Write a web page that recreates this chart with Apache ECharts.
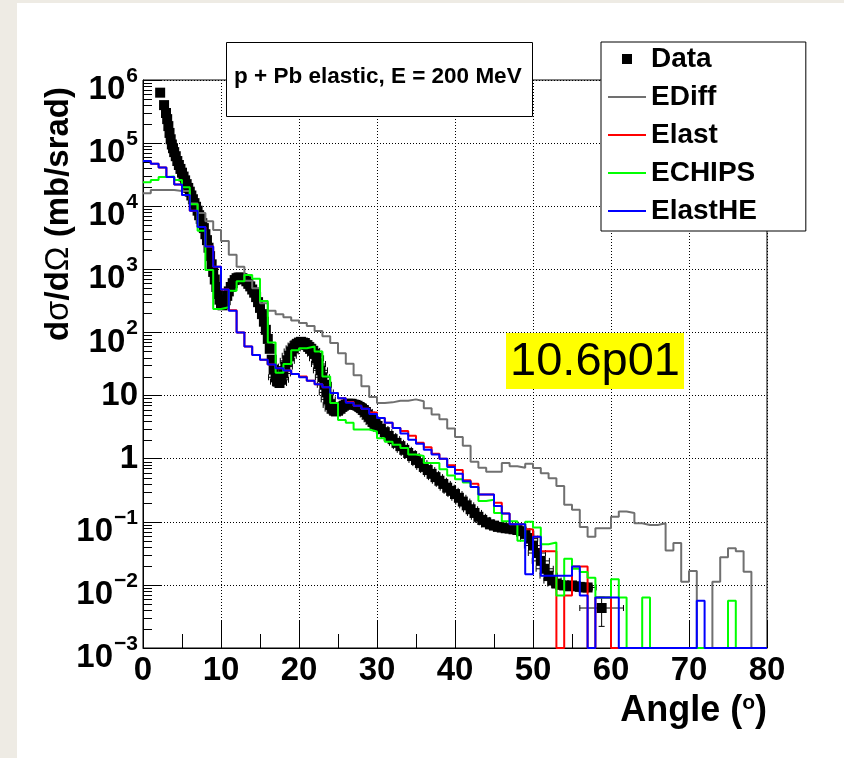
<!DOCTYPE html>
<html><head><meta charset="utf-8">
<script src="https://cdn.jsdelivr.net/npm/echarts@6/dist/echarts.min.js"></script>
<style>html,body{margin:0;padding:0;background:#fff}#c{width:844px;height:758px}</style>
</head><body><div id="c"></div>
<script>
// ---------------- data ----------------
const binLow = [0,1,2,3,4,5,6,7,8,9,10,11,12,13,14,15,16,17,18,19,20,21,22,23,24,25,26,27,28,29,30,31,32,33,34,35,36,37,38,39,40,41,42,43,44,45,46,47,48,49,50,51,52,53,54,55,56,57,58,59,60,61,62,63,64,65,66,67,68,69,70,71,72,73,74,75,76,77,78,79];
const binWidth = 1;

const histEDiff = [
1.6e4,1.8e4,1.8e4,1.8e4,1.75e4,1.75e4,1.1e4,7.8e3,5.8e3,4.2e3,
2.8e3,1.7e3,1.1e3,660,500,290,220,195,174,155,
141,126,105,87,68,47,32,21,14,9.5,
7.6,7.8,8.3,8.3,8.7,8.1,6.3,5.0,4.2,3.0,
2.2,1.6,0.89,0.72,0.62,0.62,0.85,0.76,0.72,0.83,
0.71,0.59,0.49,0.37,0.186,0.155,0.083,0.058,0.079,0.079,
0.12,0.145,0.138,0.095,0.089,0.089,0.095,0.035,0.046,0.0112,
0.0166,0,0,0.0112,0.0275,0.038,0.034,0.0162,0,0];

const histElast = [
5.2e4,4.7e4,4.1e4,2.9e4,2.2e4,1.5e4,8.5e3,4.7e3,2.3e3,1.1e3,
480,225,100,60,44,37,31,27,25,22,
20,17.2,15.1,13.5,11,9.1,7.9,6.9,6.2,5.4,
4.4,3.7,3.06,2.75,2.3,1.78,1.51,1.2,1.0,0.79,
0.66,0.457,0.40,0.27,0.27,0.2,0.135,0.091,0.091,0.076,
0.058,0.034,0.034,0,0.0068,0.0195,0.0195,0,0.0063,0.0063,
0,0,0,0,0,0,0,0,0,0,
0,0,0,0,0,0,0,0,0,0];

const histECHIPS = [
2.4e4,2.6e4,2.9e4,2.95e4,2.6e4,2.0e4,1.07e4,4.1e3,980,235,
250,457,646,813,708,316,69,22.9,31.6,52,
56,60,50,20,7.6,4.1,3.7,2.9,2.9,2.7,
2.1,1.86,1.66,1.48,1.16,1.1,0.85,0.85,0.68,0.54,
0.47,0.42,0.355,0.214,0.224,0.138,0.102,0.102,0.05,0.1,
0.081,0.044,0.047,0.0068,0.026,0.018,0.016,0.013,0.0063,0.0063,
0.0123,0.0063,0,0,0.0063,0,0,0,0,0,
0,0,0,0,0,0.0056,0,0,0,0];

const histElastHE = [
5.2e4,4.7e4,4.1e4,2.9e4,2.2e4,1.5e4,8.5e3,4.7e3,2.3e3,1.1e3,
480,220,100,60,44,37,31,27,25,22,
19.5,17.2,15.1,13.5,11,9.1,7.7,6.9,6.2,5.1,
4.4,3.7,3.06,2.5,2.0,1.72,1.39,1.16,1.0,0.74,
0.575,0.437,0.355,0.27,0.27,0.178,0.135,0.091,0.091,0.0148,
0.058,0.0139,0.0139,0.0139,0.0139,0.0195,0.0068,0,0.0063,0.0063,
0.0063,0,0,0,0,0,0,0,0,0,
0,0.0056,0,0,0,0,0,0,0,0];

const dataAngle = [
2.2,2.7,2.95,3.1,3.25,3.4,3.55,3.7,3.85,
4.0,4.2,4.4,4.6,4.8,5.0,5.2,5.4,5.6,5.8,6.0,6.2,6.4,6.6,6.8,7.0,7.2,7.4,7.6,7.8,8.0,8.2,8.4,8.6,8.8,9.0,9.2,9.4,9.6,9.8,10.0,
10.2,10.4,10.6,10.8,11.0,
11.25,11.5,11.75,12.0,12.25,12.5,12.75,13.0,13.25,13.5,13.75,14.0,14.25,14.5,14.75,15.0,15.25,15.5,15.75,16.0,16.25,16.5,16.75,
17.0,17.25,17.5,17.75,18.0,18.25,18.5,18.75,19.0,19.25,19.5,19.75,20.0,20.25,20.5,20.75,21.0,21.25,21.5,21.75,22.0,22.25,22.5,22.75,
23.0,23.25,23.5,23.75,24.0,24.25,24.5,24.75,25.0,25.25,25.5,25.75,26.0,26.25,26.5,26.75,27.0,27.25,27.5,27.75,28.0,28.25,28.5,28.75,
29.0,29.25,29.5,29.75,30.0,
30.5,31.0,31.5,32.0,32.5,33.0,33.5,34.0,34.5,35.0,35.5,36.0,36.5,37.0,37.5,38.0,38.5,39.0,39.5,40.0,40.5,41.0,41.5,42.0,42.5,43.0,43.5,44.0,
44.5,45.0,45.5,46.0,46.5,47.0,47.5,48.0,48.5,49.0,49.5,50.0,50.5,51.0,51.5,52.0,52.5,53.0,53.5,54.0,54.5,55.0,55.5,56.0,56.5,57.0,
58.8];

const dataValue = [
6.3e5,4.0e5,3.0e5,2.4e5,1.86e5,1.45e5,1.15e5,9.5e4,8.3e4,
7.2e4,6.2e4,5.2e4,4.5e4,3.9e4,3.4e4,2.95e4,2.57e4,2.24e4,1.95e4,1.7e4,1.48e4,1.29e4,1.12e4,9.8e3,8.5e3,7.2e3,6.3e3,5.4e3,4.5e3,3.6e3,2.9e3,2.2e3,1.62e3,1.2e3,910,690,525,407,331,288,
269,282,324,380,447,
525,603,676,724,741,741,724,692,646,589,537,479,427,363,302,245,195,148,110,79,55,37,25.7,
19.5,16.6,15.8,17.8,22.4,28.8,35.5,42.7,50,56,62,66,69,71,69,68,63,59,55,51,46,39,31.6,25.1,
19.5,14.8,11.2,8.7,7.1,6.2,5.75,5.6,5.75,6.2,6.6,6.9,7.2,7.4,7.4,7.4,7.2,7.1,6.9,6.6,6.3,5.9,5.5,5.0,
4.6,4.2,3.8,3.55,3.3,
2.95,2.63,2.29,2.04,1.78,1.58,1.38,1.23,1.10,0.955,0.85,0.74,0.66,0.575,0.51,0.447,0.398,0.347,0.309,0.275,0.24,0.209,0.182,0.158,0.138,0.12,0.107,0.098,
0.091,0.087,0.083,0.081,0.079,0.078,0.076,0.074,0.071,0.065,0.054,0.042,0.032,0.024,0.018,0.014,0.0117,0.0105,0.0100,0.0098,0.0095,0.0098,0.0095,0.0093,0.0091,0.0091,
0.0043];

const dataXErr = [
0,0,0,0,0,0,0,0,0,
0,0,0,0,0,0,0,0,0,0,0,0,0,0,0,0,0,0,0,0,0,0,0,0,0,0,0,0,0,0,0,
0,0,0,0,0,
0,0,0,0,0,0,0,0,0,0,0,0,0,0,0,0,0,0,0,0,0,0,0,
0.9,0.9,0.9,0.9,0.9,0.9,0.9,0.9,0.9,0.9,0.9,0.9,0.9,0.9,0.9,0.9,0.9,0.9,0.9,0.9,0.9,0.9,0.9,0.9,
0.9,0.9,0.9,0.9,0.9,0.9,0.9,0.9,0.9,0.9,0.9,0.9,0.9,0.9,0.9,0.9,0.9,0.9,0.9,0.9,0.9,0.9,0.9,0.9,
0.9,0.9,0.9,0.9,0.9,
0.9,0.9,0.9,0.9,0.9,0.9,0.9,0.9,0.9,0.9,0.9,0.9,0.9,0.9,0.9,0.9,0.9,0.9,0.9,0.9,0.9,0.9,0.9,0.9,0.9,0.9,0.9,0.9,
1.1,1.1,1.1,1.1,1.1,1.1,1.1,1.1,1.1,1.1,1.1,1.1,1.1,1.1,1.1,1.1,1.1,1.1,1.1,1.1,1.1,1.1,1.1,1.1,1.1,1.1,
2.8];

const dataYErr = [
0,0,0,0,0,0,0,0,0,
0,0,0,0,0,0,0,0,0,0,0,0,0,0,0,0,0,0,0,0,0,0,0,0,0,0,0,0,0,0,0,
0,0,0,0,0,
0,0,0,0,0,0,0,0,0,0,0,0,0,0,0,0,0,0,0,0,0,0,0,
0,0,0,0,0,0,0,0,0,0,0,0,0,0,0,0,0,0,0,0,0,0,0,0,
0,0,0,0,0,0,0,0,0,0,0,0,0,0,0,0,0,0,0,0,0,0,0,0,
0,0,0,0,0,
0,0,0,0,0,0,0,0,0,0,0,0,0,0,0,0,0,0,0,0,0,0,0,0,0,0,0,0,
0,0,0,0,0,0,0,0,0,0,0,0,0,0,0,0,0,0,0,0,0,0,0,0,0,0,
0.0021];

const yTickExponents = [-3,-2,-1,0,1,2,3,4,5,6];
const xTicks = [0,10,20,30,40,50,60,70,80];

// ---------------- chart ----------------
const F = 'Liberation Sans, Arial, Helvetica, sans-serif';
const Y_MIN = 1e-3, Y_MAX = 1e6;
const X_MIN = xTicks[0], X_MAX = xTicks[xTicks.length - 1];

function histData(v) {
  const d = binLow.map((x, i) => [x, v[i] > 0 ? v[i] : Y_MIN]);
  const last = v[v.length - 1];
  d.push([binLow[binLow.length - 1] + binWidth, last > 0 ? last : Y_MIN]);
  return d;
}
function histSeries(name, v, color) {
  return {
    name, type: 'line', step: 'end', data: histData(v), color,
    showSymbol: false, symbol: 'none', itemStyle: {color},
    lineStyle: {color, width: 2}, silent: true, animation: false
  };
}
// log-axis minor tick positions (2..9 in each decade)
const minorTicks = [];
for (let e = yTickExponents[0]; e < yTickExponents[yTickExponents.length - 1]; e++) {
  for (let m = 2; m <= 9; m++) minorTicks.push([0, m * Math.pow(10, e)]);
}

const lineIcon = 'path://M0,0h0.01v0.01h-0.01zM0,5h38v2h-38zM37.99,11.99h0.01v0.01h-0.01z';
const squareIcon = 'path://M0,0h0.01v0.01h-0.01zM14,1h10v10h-10zM37.99,11.99h0.01v0.01h-0.01z';

const chart = echarts.init(document.getElementById('c'), null, {renderer: 'canvas'});
chart.setOption({
  animation: false,
  backgroundColor: '#ffffff',
  title: {
    text: 'p + Pb elastic, E = 200 MeV',
    left: 226, top: 42,
    padding: [22, 11, 27, 8],
    borderColor: '#000', borderWidth: 1, backgroundColor: '#fff',
    textStyle: {fontFamily: F, fontSize: 22.5, fontWeight: 'bold', color: '#000', lineHeight: 26}
  },
  legend: {
    orient: 'vertical', left: 601, top: 42,
    padding: [2, 49, 5, 7],
    itemWidth: 38, itemHeight: 12, itemGap: 8, itemTextGap: 7,
    backgroundColor: '#fff', borderColor: '#000', borderWidth: 1,
    selectedMode: false,
    itemStyle: {borderWidth: 0, opacity: 1},
    textStyle: {fontFamily: F, fontSize: 28, fontWeight: 'bold', color: '#000', lineHeight: 30},
    data: [
      {name: 'Data', icon: squareIcon},
      {name: 'EDiff', icon: lineIcon},
      {name: 'Elast', icon: lineIcon},
      {name: 'ECHIPS', icon: lineIcon},
      {name: 'ElastHE', icon: lineIcon}
    ]
  },
  grid: {left: 143, right: 77, top: 80, bottom: 110, show: true, borderColor: '#000', borderWidth: 1,
         backgroundColor: 'transparent', containLabel: false, outerBoundsMode: 'none'},
  xAxis: {
    type: 'value', min: X_MIN, max: X_MAX, interval: 10,
    axisLine: {show: true, lineStyle: {color: '#000', width: 1}},
    axisTick: {show: true, inside: true, length: 28, lineStyle: {color: '#000', width: 1}},
    minorTick: {show: true, splitNumber: 2, length: 14, lineStyle: {color: '#000', width: 1}},
    splitLine: {show: true, lineStyle: {color: '#000', width: 1, type: [1, 2]}},
    axisLabel: {show: true, margin: 6, fontFamily: F, fontSize: 33, fontWeight: 'bold', color: '#000'}
  },
  yAxis: {
    type: 'log', logBase: 10, min: Y_MIN, max: Y_MAX, splitNumber: 9,
    axisLine: {show: true, lineStyle: {color: '#000', width: 1}},
    axisTick: {show: true, inside: true, length: 18, lineStyle: {color: '#000', width: 1}},
    splitLine: {show: true, lineStyle: {color: '#000', width: 1, type: [1, 2]}},
    axisLabel: {
      show: true, margin: 5, color: '#000',
      formatter: function (v) {
        const e = Math.round(Math.log10(v));
        if (e === 0) return '{p|1}';
        if (e === 1) return '{p|10}';
        return '{b|10}{s|' + (e < 0 ? '\u2212' + (-e) : e) + '}';
      },
      rich: {
        p: {fontFamily: F, fontSize: 33, fontWeight: 'bold', color: '#000', lineHeight: 33},
        b: {fontFamily: F, fontSize: 33, fontWeight: 'bold', color: '#000', lineHeight: 33, padding: [20, 0, 0, 0]},
        s: {fontFamily: F, fontSize: 21, fontWeight: 'bold', color: '#000', lineHeight: 21, padding: [12, 0, 20, 1]}
      }
    }
  },
  graphic: {elements: [
    {type: 'rect', z: -10, shape: {x: 0, y: 0, width: 17, height: 758}, style: {fill: '#eeebe4'}},
    {type: 'rect', z: -10, shape: {x: 0, y: 0, width: 844, height: 3}, style: {fill: '#eeebe4'}},
    {type: 'text', x: 59, y: 87, rotation: Math.PI / 2, z: 20,
     style: {text: '{b|d}{g|\u03c3}{b|/d}{g|\u03a9}{b| (mb/srad)}', textAlign: 'right', textVerticalAlign: 'middle',
       rich: {
         b: {fontFamily: F, fontSize: 33, fontWeight: 'bold', fill: '#000', lineHeight: 33},
         g: {fontFamily: F, fontSize: 33, fontWeight: 'normal', fill: '#000', lineHeight: 33}
       }}},
    {type: 'text', x: 767, y: 711, z: 20,
     style: {text: '{a|Angle (}{s|o}{a|)}', textAlign: 'right', textVerticalAlign: 'middle',
       rich: {
         a: {fontFamily: F, fontSize: 36, fontWeight: 'bold', fill: '#000', lineHeight: 36},
         s: {fontFamily: F, fontSize: 21, fontWeight: 'bold', fill: '#000', lineHeight: 21, verticalAlign: 'top'}
       }}},
    {type: 'rect', z: 50, shape: {x: 506, y: 333, width: 178, height: 56}, style: {fill: '#ffff00'}},
    {type: 'text', x: 595, y: 362, z: 51,
     style: {text: '10.6p01', fontFamily: F, fontSize: 47, fontWeight: 'normal', fill: '#000',
             textAlign: 'center', textVerticalAlign: 'middle'}}
  ]},
  series: [
    {
      name: 'Data', type: 'scatter', symbol: 'rect', symbolSize: 10,
      itemStyle: {color: '#000', opacity: 1}, color: '#000', silent: true, z: 2,
      data: dataAngle.map((a, i) => [a, dataValue[i]])
    },
    {
      type: 'custom', silent: true, z: 2, clip: true,
      encode: {x: 0, y: 1},
      data: dataAngle.map((a, i) => [a, dataValue[i], dataXErr[i], dataYErr[i]]),
      renderItem: function (params, api) {
        const x = api.value(0), y = api.value(1), xe = api.value(2), ye = api.value(3);
        const ch = [];
        const st = {stroke: '#000', lineWidth: 1};
        const cap = 3;
        if (xe > 0) {
          const a = api.coord([x - xe, y]), b = api.coord([x + xe, y]);
          ch.push({type: 'line', shape: {x1: a[0], y1: a[1], x2: b[0], y2: b[1]}, style: st});
          ch.push({type: 'line', shape: {x1: a[0], y1: a[1] - cap, x2: a[0], y2: a[1] + cap}, style: st});
          ch.push({type: 'line', shape: {x1: b[0], y1: b[1] - cap, x2: b[0], y2: b[1] + cap}, style: st});
        }
        if (ye > 0) {
          const c = api.coord([x, y + ye]), d = api.coord([x, Math.max(y - ye, Y_MIN)]);
          ch.push({type: 'line', shape: {x1: c[0], y1: c[1], x2: d[0], y2: d[1]}, style: st});
          ch.push({type: 'line', shape: {x1: c[0] - cap, y1: c[1], x2: c[0] + cap, y2: c[1]}, style: st});
          ch.push({type: 'line', shape: {x1: d[0] - cap, y1: d[1], x2: d[0] + cap, y2: d[1]}, style: st});
        }
        return {type: 'group', children: ch};
      }
    },
    {
      type: 'custom', silent: true, z: 3, clip: false,
      encode: {x: 0, y: 1},
      data: minorTicks,
      renderItem: function (params, api) {
        const p = api.coord([X_MIN, api.value(1)]);
        const yy = Math.round(p[1]) + 0.5;
        return {type: 'line', shape: {x1: p[0], y1: yy, x2: p[0] + 9, y2: yy}, style: {stroke: '#000', lineWidth: 1}};
      }
    },
    histSeries('EDiff', histEDiff, '#707070'),
    histSeries('Elast', histElast, '#ff0000'),
    histSeries('ECHIPS', histECHIPS, '#00ff00'),
    histSeries('ElastHE', histElastHE, '#0000ff')
  ]
});
</script>
</body></html>
